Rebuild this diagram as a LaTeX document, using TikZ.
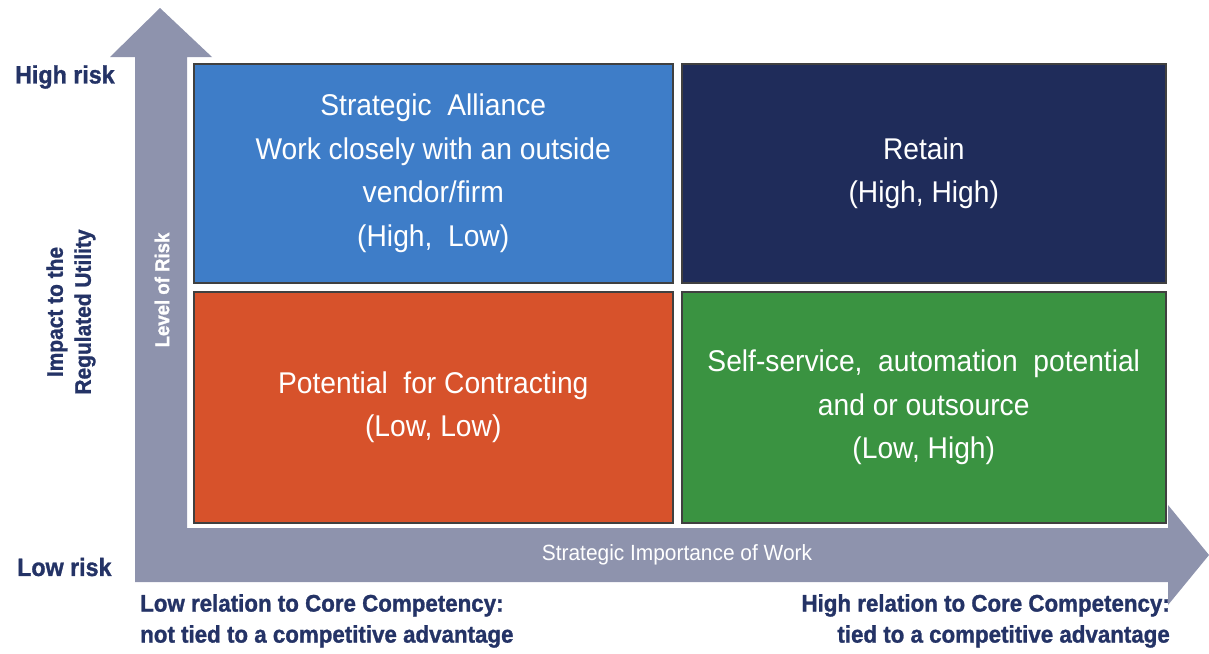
\documentclass[tikz,border=0pt]{standalone}
\usepackage{fontspec}
\setmainfont{Liberation Sans}
\newfontfamily\quadfont[FakeStretch=0.94]{Liberation Sans}
\newfontfamily\labfont[FakeStretch=0.95]{Liberation Sans}
\newfontfamily\heavyfont[FakeStretch=0.93, BoldFeatures={FakeBold=1.2}]{Liberation Sans}
\definecolor{qblue}{HTML}{3E7DC8}
\definecolor{qnavy}{HTML}{1F2C5A}
\definecolor{qorange}{HTML}{D7522B}
\definecolor{qgreen}{HTML}{3A9341}
\definecolor{axisgray}{HTML}{8E93AD}
\definecolor{labnavy}{HTML}{243366}
\tikzset{
  quadbox/.style={draw=black!75, line width=1.5pt, inner sep=0pt,
    minimum width=479pt, minimum height=219pt, anchor=north west,
    text=white, align=center, font=\quadfont\fontsize{30}{43.5}\selectfont},
  widebox/.style={quadbox, minimum width=484pt},
  lowbox/.style={minimum height=231pt},
  sidelab/.style={text=labnavy, inner sep=0pt, font=\heavyfont\bfseries\fontsize{25}{28}\selectfont},
  implab/.style={text=labnavy, inner sep=0pt, font=\heavyfont\bfseries\fontsize{22.5}{28}\selectfont},
  botlab/.style={text=labnavy, inner sep=0pt, font=\heavyfont\bfseries\fontsize{24}{31}\selectfont},
  axislab/.style={text=white, inner sep=0pt}
}
\begin{document}
\begin{tikzpicture}[x=1pt,y=-1pt]
\useasboundingbox (0,0) rectangle (1209,653);
% L-shaped axis arrow
\fill[axisgray] (160,8) -- (212,57) -- (187,57) -- (187,528) -- (1168,528)
  -- (1168,505) -- (1209,555) -- (1168,605) -- (1168,582) -- (135,582)
  -- (135,57) -- (110,57) -- cycle;
% quadrants
\node[quadbox, fill=qblue] (tl) at (193,63)
  {Strategic\ \ Alliance\\Work closely with\ an outside\\vendor/firm\\(High,\ \ Low)};
\node[widebox, fill=qnavy] (tr) at (681,63) {Retain\\(High,\ High)};
\node[quadbox, lowbox, fill=qorange] (bl) at (193,291)
  {Potential\ \ for\ Contracting\\(Low,\ Low)};
\node[widebox, lowbox, fill=qgreen] (br) at (681,291)
  {Self-service,\ \ automation\ \ potential\\and or outsource\\(Low,\ High)};
% axis labels
\node[axislab, rotate=90, font=\heavyfont\bfseries\fontsize{20}{22}\selectfont] (lvl) at (162,290) {Level of Risk};
\node[axislab, font=\labfont\fontsize{22}{24}\selectfont] (siw) at (677,555) {Strategic Importance of Work};
% side labels
\node[sidelab, anchor=west] (hr) at (15,77) {High risk};
\node[sidelab, anchor=west] (lr) at (17,567) {Low risk};
\node[implab, rotate=90, align=center] (imp) at (71,312) {Impact to the\\Regulated Utility};
% bottom labels
\node[botlab, anchor=north west, align=left] (bl1) at (140,594)
  {Low relation to Core Competency:\\not tied to a competitive advantage};
\node[botlab, anchor=north east, align=right] (br1) at (1170,594)
  {High relation to Core Competency:\\tied to a competitive advantage};
\end{tikzpicture}
\end{document}
